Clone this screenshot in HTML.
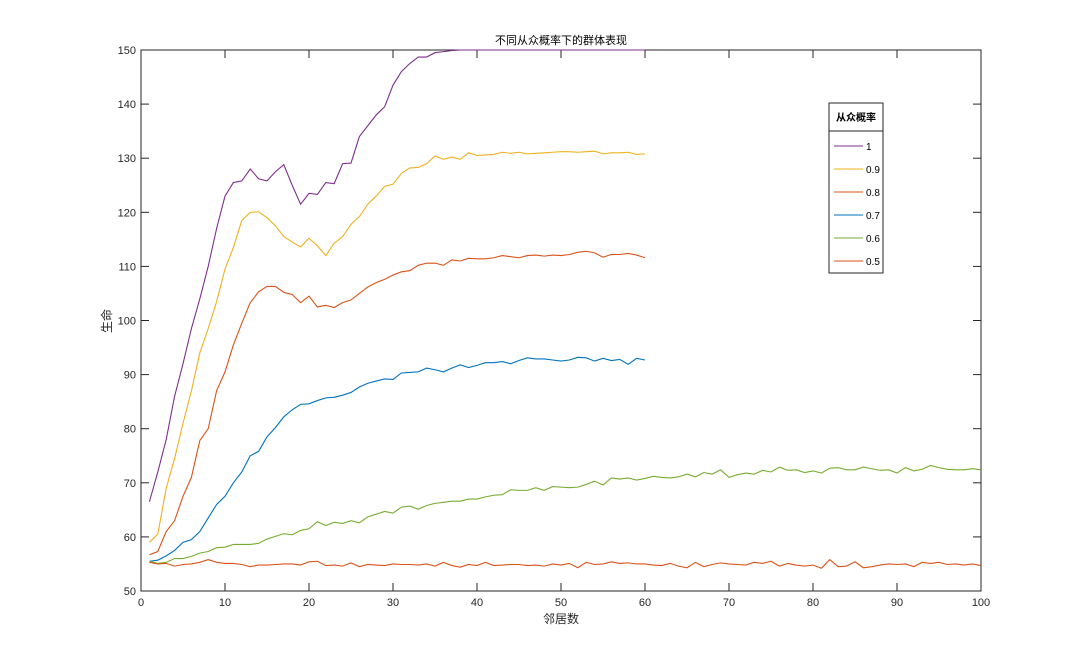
<!DOCTYPE html>
<html><head><meta charset="utf-8"><style>
html,body{margin:0;padding:0;background:#fff;}
svg{display:block;font-family:"Liberation Sans","Noto Sans CJK SC",sans-serif;}
</style></head><body>
<svg id="chart" width="1085" height="665"></svg>
<script>
const xTicks=[0,10,20,30,40,50,60,70,80,90,100];
const yTicks=[50,60,70,80,90,100,110,120,130,140,150];
const seriesLabels=["1","0.9","0.8","0.7","0.6","0.5"];
const seriesColors=["#7E2F8E","#EDB120","#D95319","#0072BD","#77AC30","#D95319"];
const s1=[66.5,72,78,86,92,98.5,104,110,117,123,125.5,125.8,128,126.2,125.8,127.5,128.8,125,121.5,123.5,123.3,125.5,125.3,129,129.1,134,136,138,139.5,143.5,146,147.5,148.7,148.7,149.5,149.7,149.9,150,150,150,150,150,150,150,150,150,150,150,150,150,150,150,150,150,150,150,150,150,150,150];
const s09=[59,60.5,69,74.5,81,87,94,98.5,103.5,109.5,113.5,118.5,120,120.1,119,117.5,115.5,114.5,113.6,115.2,113.8,112,114.3,115.5,117.8,119.2,121.5,123,124.8,125.2,127.2,128.2,128.3,129,130.4,129.8,130.2,129.8,131,130.5,130.6,130.7,131.1,130.9,131.1,130.8,130.9,131,131.1,131.2,131.2,131.1,131.2,131.3,130.8,131,131,131.1,130.7,130.8];
const s08=[56.7,57.3,61,63,67.5,71,77.8,80,87,90.5,95.5,99.5,103.3,105.3,106.3,106.3,105.2,104.8,103.3,104.5,102.5,102.8,102.4,103.3,103.8,105,106.2,107,107.6,108.4,109,109.2,110.2,110.6,110.6,110.2,111.2,111,111.5,111.4,111.4,111.6,112,111.8,111.6,112,112.1,111.9,112.1,112,112.2,112.6,112.8,112.5,111.7,112.2,112.2,112.4,112.1,111.6];
const s07=[55.5,55.7,56.5,57.5,59,59.5,61,63.5,66,67.5,70,72,75,75.8,78.5,80.2,82.2,83.5,84.5,84.6,85.2,85.7,85.8,86.2,86.7,87.7,88.4,88.8,89.2,89.1,90.3,90.4,90.5,91.2,90.9,90.5,91.2,91.8,91.3,91.7,92.2,92.2,92.4,92,92.6,93.1,92.9,92.9,92.7,92.5,92.7,93.2,93.1,92.5,93,92.6,92.8,91.9,93,92.7];
const s06=[55.5,55.1,55.3,56,56,56.4,57,57.3,58,58.1,58.6,58.6,58.6,58.8,59.6,60.1,60.6,60.4,61.2,61.5,62.8,62.1,62.7,62.5,63,62.6,63.7,64.2,64.7,64.4,65.5,65.7,65.1,65.8,66.2,66.4,66.6,66.6,67,67,67.4,67.7,67.8,68.7,68.6,68.6,69.1,68.6,69.3,69.2,69.1,69.2,69.7,70.3,69.6,70.9,70.7,70.9,70.5,70.8,71.2,71,70.9,71.1,71.6,71.1,71.9,71.6,72.4,71,71.5,71.8,71.6,72.3,72,72.9,72.3,72.4,71.9,72.2,71.8,72.7,72.8,72.4,72.4,72.9,72.6,72.3,72.4,71.8,72.8,72.2,72.5,73.2,72.8,72.5,72.4,72.4,72.6,72.4];
const s05=[55.3,55,55.1,54.6,54.9,55,55.3,55.8,55.3,55.1,55.1,54.9,54.5,54.8,54.8,54.9,55,55,54.8,55.4,55.5,54.7,54.8,54.6,55.2,54.5,54.9,54.8,54.7,55,54.9,54.9,54.8,55,54.6,55.3,54.7,54.4,54.9,54.7,55.3,54.7,54.8,54.9,54.9,54.7,54.8,54.6,55,54.8,55.1,54.3,55.3,54.9,55,55.4,55.1,55.2,55,55,54.8,54.7,55.1,54.6,54.3,55.3,54.5,54.9,55.2,55,54.9,54.8,55.3,55.1,55.5,54.6,55.1,54.8,54.6,54.8,54.2,55.8,54.5,54.6,55.4,54.3,54.5,54.8,55,54.9,55,54.5,55.3,55.1,55.3,54.9,55,54.8,55,54.7];
const allSeries=[s1,s09,s08,s07,s06,s05];

const svg=document.getElementById('chart');
const NS='http://www.w3.org/2000/svg';
const L=141,R=981,T=50,B=591;
const xs=v=>L+(v-0)/(100-0)*(R-L);
const ys=v=>B-(v-50)/(150-50)*(B-T);
function mk(tag,attrs){const e=document.createElementNS(NS,tag);for(const k in attrs)e.setAttribute(k,attrs[k]);svg.appendChild(e);return e;}

const box=mk('rect',{x:L,y:T,width:R-L,height:B-T,fill:'#fff',stroke:'#262626','stroke-width':1});



xTicks.forEach(t=>{
  const x=xs(t);
  const a=mk('line',{x1:x,y1:B,x2:x,y2:B-8,stroke:'#262626'});
  
  
  const b=mk('line',{x1:x,y1:T,x2:x,y2:T+8,stroke:'#262626'});
  
  
  const tx=mk('text',{x:x,y:B+15,'font-size':11,'text-anchor':'middle',fill:'#262626'});
  tx.textContent=t;
  
  
});
yTicks.forEach(t=>{
  const y=ys(t);
  const a=mk('line',{x1:L,y1:y,x2:L+8,y2:y,stroke:'#262626'});
  
  
  const b=mk('line',{x1:R,y1:y,x2:R-8,y2:y,stroke:'#262626'});
  
  
  const tx=mk('text',{x:L-5,y:y+4,'font-size':11,'text-anchor':'end',fill:'#262626'});
  tx.textContent=t;
  
  
});

allSeries.forEach((s,i)=>{
  const pts=s.map((v,j)=>xs(j+1).toFixed(2)+','+ys(v).toFixed(2)).join(' ');
  const p=mk('polyline',{points:pts,fill:'none',stroke:seriesColors[i],'stroke-width':1.1});
  
  
});

const title=mk('text',{x:561,y:44,'font-size':11,'text-anchor':'middle',fill:'#000'});
title.textContent='不同从众概率下的群体表现';


const xl=mk('text',{x:561,y:623,'font-size':12,'text-anchor':'middle',fill:'#262626'});
xl.textContent='邻居数';


const yl=mk('text',{x:0,y:0,'font-size':12,'text-anchor':'middle',fill:'#262626',transform:'translate(111,321) rotate(-90)'});
yl.textContent='生命';



const lg=mk('rect',{x:829,y:103,width:54,height:170,fill:'#fff',stroke:'#262626'});


mk('line',{x1:829,y1:131,x2:883,y2:131,stroke:'#262626'});
const lt=mk('text',{x:856,y:121,'font-size':10,'font-weight':'bold','text-anchor':'middle',fill:'#000'});
lt.textContent='从众概率';


seriesLabels.forEach((lab,i)=>{
  const y=146+i*23;
  const ln=mk('line',{x1:834,y1:y,x2:863,y2:y,stroke:seriesColors[i],'stroke-width':1.1});
  
  
  const t=mk('text',{x:866,y:y+4,'font-size':10,fill:'#000'});
  t.textContent=lab;
  
  
});
</script>
</body></html>
